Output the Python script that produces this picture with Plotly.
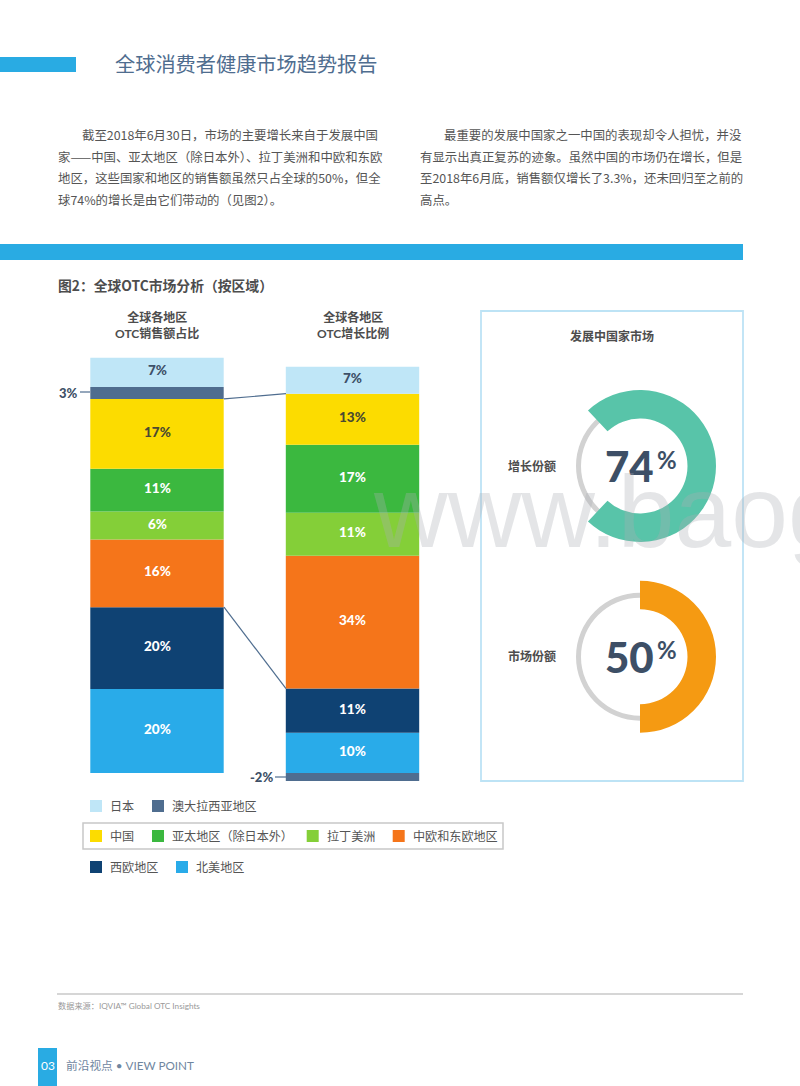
import plotly.graph_objects as go

# Chart data, bottom of the stack first.
regions = ['北美地区', '西欧地区', '中欧和东欧地区', '拉丁美洲', '亚太地区(除日本外)',
           '中国', '澳大拉西亚地区', '日本']
colors = ['#29abe9', '#0f4273', '#f5751a', '#84cf38', '#3bb83f',
          '#fcdc00', '#4f6d8f', '#bfe6f7']
label_colors = ['white', 'white', 'white', 'white', 'white',
                '#4a4a32', 'white', '#3d5068']
share_values = [20.2, 19.7, 16.3, 6.7, 10.3, 16.8, 2.9, 7.0]
share_labels = ['20%', '20%', '16%', '6%', '11%', '17%', '', '7%']
growth_values = [10.1, 11.1, 33.4, 10.8, 17.1, 12.8, -2.0, 6.8]
growth_labels = ['10%', '11%', '34%', '11%', '17%', '13%', '', '7%']
column_names = ['全球各地区<br>OTC销售额占比', '全球各地区<br>OTC增长比例']

growth_share = [74, 26]
market_share = [50, 50]

left_text = ['截至2018年6月30日，市场的主要增长来自于发展中国',
             '家——中国、亚太地区（除日本外）、拉丁美洲和中欧和东欧',
             '地区，这些国家和地区的销售额虽然只占全球的50%，但全',
             '球74%的增长是由它们带动的（见图2）。']
right_text = ['最重要的发展中国家之一中国的表现却令人担忧，并没',
              '有显示出真正复苏的迹象。虽然中国的市场仍在增长，但是',
              '至2018年6月底，销售额仅增长了3.3%，还未回归至之前的',
              '高点。']

W, H = 800, 1086
FONT = 'Lato, Noto Sans CJK SC, sans-serif'
CJK = 'Noto Sans CJK SC, sans-serif'
BLUE = '#29abe3'
GREY_TEXT = '#4d4d4d'
NAVY = '#3d4f66'

# Pixel scale of the two stacks. Zero sits on the same line for both.
ZERO_PX, TOP_PX, BOTTOM_PX = 773, 340, 790
SHARE_SCALE, GROWTH_SCALE = 4.156, 3.98


def px(x):
    return x / W


def py(y):
    return 1 - y / H


fig = go.Figure()
shapes = []
annotations = []

# Make the stacked bars, one axis for each column.
for i, region in enumerate(regions):
    fig.add_trace(go.Bar(x=[column_names[0]], y=[share_values[i]], name=region,
                         yaxis='y', marker_color=colors[i], marker_line_width=0))
    fig.add_trace(go.Bar(x=[column_names[1]], y=[growth_values[i]], name=region,
                         yaxis='y2', marker_color=colors[i], marker_line_width=0))

# Segment labels sit a little above the middle of each segment.
# Negative values stack below zero, so only positive ones count for the base.
for col, yref, values, labels in [(column_names[0], 'y', share_values, share_labels),
                                  (column_names[1], 'y2', growth_values, growth_labels)]:
    for i, label in enumerate(labels):
        if label:
            base = sum(v for v in values[:i] if v > 0)
            annotations.append(dict(x=col, y=base + values[i] / 2, xref='x', yref=yref,
                                    text=label, showarrow=False, yshift=2,
                                    font=dict(family=FONT, size=13.5, color=label_colors[i],
                                              weight=900)))


# Make the two doughnuts: thin grey ring under a thick arc.
def add_doughnut(values, color, rotation, cy):
    r = 64
    fig.add_trace(go.Pie(values=[1], hole=59 / 64, sort=False, textinfo='none',
                         marker=dict(colors=['#d2d2d2'], line_width=0), showlegend=False,
                         domain=dict(x=[px(640 - r), px(640 + r)], y=[py(cy + r), py(cy - r)])))
    r = 76
    fig.add_trace(go.Pie(values=values, hole=47.5 / 76, sort=False, textinfo='none',
                         direction='clockwise', rotation=rotation,
                         marker=dict(colors=[color, 'rgba(0,0,0,0)'], line_width=0),
                         showlegend=False,
                         domain=dict(x=[px(640 - r), px(640 + r)], y=[py(cy + r), py(cy - r)])))


add_doughnut(growth_share, '#58c4a9', 90 - growth_share[0] * 1.8, 466)
add_doughnut(market_share, '#f59a12', 0, 656.7)


def add_rect(x0, y0, x1, y1, fill=None, line=None, width=0):
    shapes.append(dict(type='rect', xref='paper', yref='paper',
                       x0=px(x0), x1=px(x1), y0=py(y0), y1=py(y1),
                       fillcolor=fill or 'rgba(0,0,0,0)',
                       line=dict(color=line or 'rgba(0,0,0,0)', width=width)))


def add_line(x0, y0, x1, y1, color='#4f6d8f', width=1.2):
    shapes.append(dict(type='line', xref='paper', yref='paper',
                       x0=px(x0), x1=px(x1), y0=py(y0), y1=py(y1),
                       line=dict(color=color, width=width)))


def add_text(x, y, text, size=12, color=GREY_TEXT, anchor='left', family=CJK, weight=None):
    font = dict(family=family, size=size, color=color)
    if weight:
        font['weight'] = weight
    annotations.append(dict(xref='paper', yref='paper', x=px(x), y=py(y), text=text,
                            showarrow=False, xanchor=anchor, yanchor='middle',
                            align='center' if anchor == 'center' else 'left',
                            borderpad=0, font=font))


# Page header and text columns.
add_rect(0, 57, 76, 72, fill=BLUE)
add_text(114, 64, '全球消费者健康市场趋势报告', size=20.2, color='#4f6d8f')
for col_x, lines in [(57, left_text), (419, right_text)]:
    for row, line in enumerate(lines):
        add_text(col_x + 24 if row == 0 else col_x, 135 + row * 21.7, line, size=12.4, color='#555555')
add_rect(0, 244, 743, 260, fill=BLUE)

# Chart headings.
add_text(57, 285, '<b>图2：全球OTC市场分析（按区域）</b>', size=13.8)
add_text(157, 325.5, '<b>全球各地区<br>OTC销售额占比</b>', size=12, anchor='center', family=FONT)
add_text(352.5, 325.5, '<b>全球各地区<br>OTC增长比例</b>', size=12, anchor='center', family=FONT)

# Connectors between the stacks, worked out from the values.
share_top = ZERO_PX - sum(share_values[:6]) * SHARE_SCALE
growth_top = ZERO_PX - sum(growth_values[:6]) * GROWTH_SCALE
share_low = ZERO_PX - sum(share_values[:2]) * SHARE_SCALE
growth_low = ZERO_PX - sum(growth_values[:2]) * GROWTH_SCALE
add_line(224, share_top, 286, growth_top)
add_line(224, share_low, 286, growth_low)

# Outside labels for the thin segments.
add_line(80, 392, 90, 392)
add_text(58, 392.5, '3%', size=13, color=NAVY, family=FONT, weight=900)
add_line(275, 777, 286, 777)
add_text(249, 776.5, '-2%', size=13, color=NAVY, family=FONT, weight=900)

# Legend rows, the middle one is boxed.
legend_rows = [(806, [(90, '日本', 7), (152, '澳大拉西亚地区', 6)]),
               (836, [(90, '中国', 5), (152, '亚太地区（除日本外）', 4),
                      (306.7, '拉丁美洲', 3), (392.7, '中欧和东欧地区', 2)]),
               (867, [(90, '西欧地区', 1), (176, '北美地区', 0)])]
for row_y, items in legend_rows:
    for x, label, idx in items:
        add_rect(x, row_y - 6, x + 12, row_y + 6, fill=colors[idx])
        add_text(x + 19, row_y - 0.5, label, size=12.1, color='#555555')
add_rect(83, 823, 503, 849, line='#c8c8c8', width=1.5)

# Developing market panel.
add_rect(481, 311, 743, 781, line='#bde3f5', width=1.8)
add_text(611.5, 335.5, '<b>发展中国家市场</b>', size=12, anchor='center')
add_text(507, 465.5, '<b>增长份额</b>', size=12)
add_text(507, 655.5, '<b>市场份额</b>', size=12)
for cy, number in [(466, '74'), (656.7, '50')]:
    add_text(629.5, cy, number, size=42, color=NAVY, anchor='center', family=FONT, weight=900)
    add_text(666.5, cy - 7, '%', size=24, color=NAVY, anchor='center', family=FONT, weight=700)

# Footer.
add_line(57, 994, 743, 994, color='#c8c8c8', width=1.5)
add_text(57, 1006, '数据来源：IQVIA™ Global OTC Insights', size=8.2, color='#999999', family=FONT)
add_rect(38, 1048, 57, 1086, fill=BLUE)
add_text(47.5, 1065, '03', size=12, color='white', anchor='center', family=FONT)
add_text(65, 1065, '前沿视点 • VIEW POINT', size=11.7, color='#6f86a0', family=FONT)

# Watermark over everything.
add_text(372, 512, 'www.baog', size=102, color='rgba(170,175,180,0.32)',
         family='Liberation Sans, Arial, sans-serif')

fig.update_layout(
    width=W, height=H, margin=dict(l=0, r=0, t=0, b=0),
    paper_bgcolor='white', plot_bgcolor='rgba(0,0,0,0)', barmode='relative', bargap=1 - 133.4 / 195.5,
    showlegend=False, shapes=shapes, annotations=annotations,
    xaxis=dict(visible=False, type='category', categoryorder='array', categoryarray=column_names,
               domain=[px(157 - 97.75), px(352.5 + 97.75)], range=[-0.5, 1.5]),
    yaxis=dict(visible=False, domain=[py(BOTTOM_PX), py(TOP_PX)],
               range=[(ZERO_PX - BOTTOM_PX) / SHARE_SCALE, (ZERO_PX - TOP_PX) / SHARE_SCALE]),
    yaxis2=dict(visible=False, overlaying='y', side='left',
                range=[(ZERO_PX - BOTTOM_PX) / GROWTH_SCALE, (ZERO_PX - TOP_PX) / GROWTH_SCALE]),
)

fig.write_html("out.html", config={'displayModeBar': False},
               post_script="document.body.style.margin='0';")
